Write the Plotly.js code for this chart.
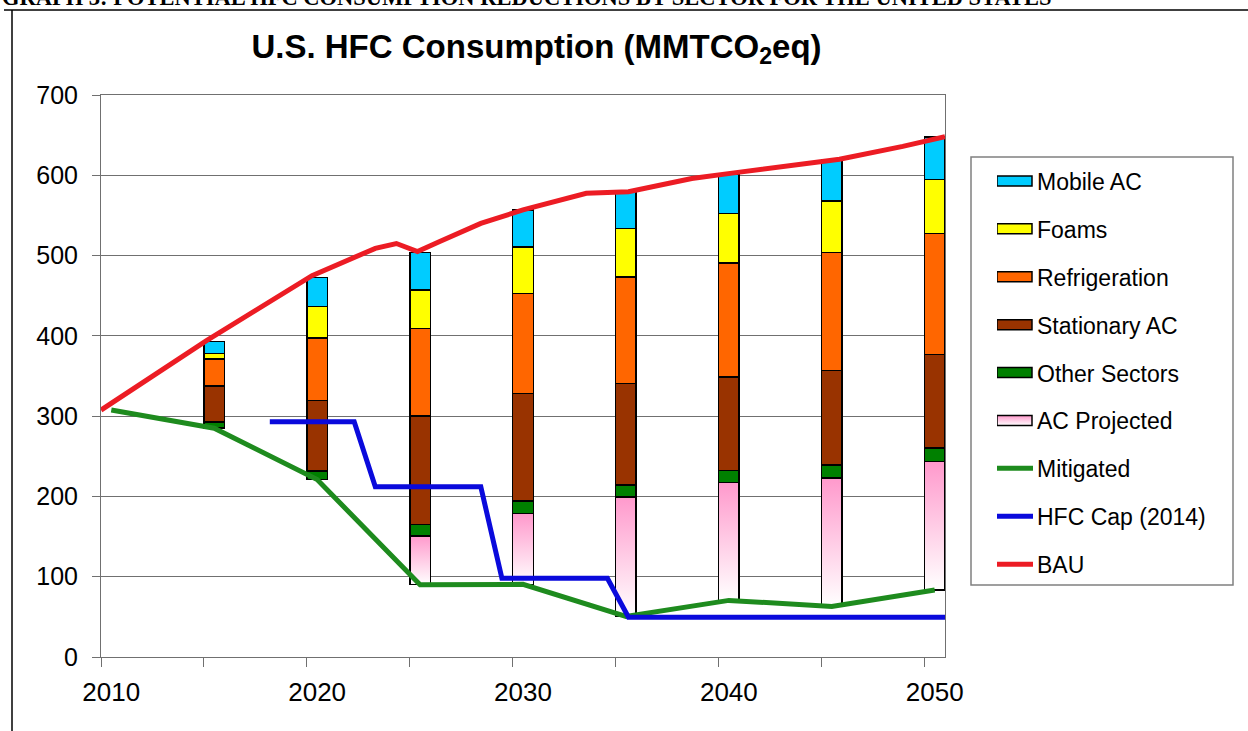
<!DOCTYPE html>
<html><head><meta charset="utf-8">
<script src="https://cdn.plot.ly/plotly-3.0.1.min.js"></script>
<style>html,body{margin:0;padding:0;background:#fff;} #chart{width:1248px;height:731px;}</style>
</head><body><div id="chart"></div>
<script>
// ---- data (MMTCO2eq) ----
const barYears = [2015, 2020, 2025, 2030, 2035, 2040, 2045, 2050];
const acProjected   = [0, 0, 61, 88, 149, 147, 160, 160];
const otherSectors  = [7.5, 10.5, 14, 16, 15, 15, 16, 17];
const stationaryAC  = [45, 88, 135, 134, 126, 116, 118, 116];
const refrigeration = [33.5, 78, 109, 124, 133, 142, 147, 151];
const foams         = [7, 39, 48, 58, 60, 62, 64, 67];
const mobileAC      = [15, 36, 47, 46, 46.5, 49, 51, 53];

const mitigatedYears = [2010, 2015, 2020, 2025, 2030, 2035, 2040, 2045, 2050];
const mitigated      = [307.6, 285, 221, 90, 90.5, 50.5, 70.5, 63, 83.5];

const capYears = [2018, 2022, 2023, 2028, 2029, 2034, 2035, 2050];
const hfcCap   = [293, 293, 212, 212, 98, 98, 49.5, 49.5];

const bauYears = [2010, 2015, 2020, 2022, 2023, 2024, 2025, 2026, 2028, 2030, 2033, 2035, 2038, 2040, 2042, 2045, 2048, 2050];
const bau      = [307.6, 394, 475, 497.5, 509, 515, 505, 517, 540, 557, 577.5, 579.5, 596, 603, 609.5, 620, 636, 648];

const xTickYears  = [2010, 2020, 2030, 2040, 2050];
const xTickLabels = ['2010', '2020', '2030', '2040', '2050'];
const xMarkYears  = [2010, 2015, 2020, 2025, 2030, 2035, 2040, 2045, 2050];

const chartTitle = 'U.S. HFC Consumption (MMTCO<sub>2</sub>eq)';
const headerText = 'GRAPH 3: POTENTIAL HFC CONSUMPTION REDUCTIONS BY SECTOR FOR THE UNITED STATES';

// bar base = mitigated level at the bar years
const barBase = barYears.map(y => mitigated[mitigatedYears.indexOf(y)]);

// ---- geometry ----
const W = 1248, H = 731, L = 101, R = 945, T = 95, B = 657;
const px = x => (x - L) / (R - L);
const py = y => (B - y) / (B - T);
const AX = '#707070';

function barTrace(name, vals, color, rank) {
  return {type: 'bar', name: name, x: barYears, y: vals, width: 1,
    marker: {color: color, line: {color: '#000', width: 1.5}},
    legendgroup: name, legendrank: rank, hoverinfo: 'skip'};
}

const data = [
  {type: 'bar', x: barYears, y: barBase, width: 1, showlegend: false, hoverinfo: 'skip',
   marker: {color: 'rgba(0,0,0,0)', line: {width: 0}}},
  barTrace('AC Projected', acProjected, '#FFD6EA', 6),
  barTrace('Other Sectors', otherSectors, '#008000', 5),
  barTrace('Stationary AC', stationaryAC, '#993300', 4),
  barTrace('Refrigeration', refrigeration, '#FF6600', 3),
  barTrace('Foams', foams, '#FFFF00', 2),
  barTrace('Mobile AC', mobileAC, '#00CCFF', 1),
  {type: 'scatter', mode: 'lines', name: 'Mitigated', x: mitigatedYears, y: mitigated,
   line: {color: '#1E8B1E', width: 5}, legendgroup: 'Mitigated', legendrank: 7, hoverinfo: 'skip'},
  {type: 'scatter', mode: 'lines', name: 'HFC Cap (2014)', x: capYears, y: hfcCap, xaxis: 'x2',
   line: {color: '#0A0ADC', width: 5}, legendgroup: 'Cap', legendrank: 8, hoverinfo: 'skip'},
  {type: 'scatter', mode: 'lines', name: 'BAU', x: bauYears, y: bau, xaxis: 'x2',
   line: {color: '#EC1C24', width: 5}, legendgroup: 'BAU', legendrank: 9, hoverinfo: 'skip'}
];

const layout = {
  width: W, height: H,
  margin: {l: L, r: W - R, t: T, b: H - B, pad: 0, autoexpand: false},
  paper_bgcolor: '#fff', plot_bgcolor: '#fff',
  font: {family: 'Liberation Sans, Arial, sans-serif', color: '#000', size: 22},
  title: {text: chartTitle, font: {size: 33, weight: 'bold', color: '#000'},
    xref: 'container', x: 536.5 / W, xanchor: 'center',
    yref: 'container', y: 1 - 46 / H, yanchor: 'middle'},
  barmode: 'stack', bargap: 0,
  showlegend: true,
  legend: {x: px(997), y: py(159.5), xanchor: 'left', yanchor: 'top',
    bgcolor: 'rgba(0,0,0,0)', borderwidth: 0, font: {size: 23},
    traceorder: 'grouped', tracegroupgap: 15, itemwidth: 30},
  xaxis: {range: [2009.5, 2050.5], tickmode: 'array', tickvals: xTickYears, ticktext: xTickLabels,
    ticks: '', showgrid: false, zeroline: false, showline: true, linecolor: AX, linewidth: 1, mirror: true,
    tickfont: {size: 26}, ticklabelstandoff: 12,
    minor: {tickmode: 'array', tickvals: xMarkYears.map(y => y - 0.5), ticks: 'outside',
      ticklen: 9, tickcolor: AX, tickwidth: 1, showgrid: false}},
  xaxis2: {overlaying: 'x', range: [2010, 2050], visible: false},
  yaxis: {range: [0, 700], tick0: 0, dtick: 100, ticks: 'outside', ticklen: 8, tickcolor: AX,
    showgrid: true, gridcolor: AX, gridwidth: 1, zeroline: false,
    showline: true, linecolor: AX, linewidth: 1, mirror: true,
    tickfont: {size: 25}, ticklabelstandoff: 9},
  shapes: [
    // outer frame
    {type: 'line', xref: 'paper', yref: 'paper', x0: px(4), x1: px(1248), y0: py(10), y1: py(10), line: {color: '#000', width: 1.5}},
    {type: 'line', xref: 'paper', yref: 'paper', x0: px(12), x1: px(12), y0: py(10), y1: py(731), line: {color: '#000', width: 1.5}},
    // legend box
    {type: 'rect', xref: 'paper', yref: 'paper', x0: px(971), x1: px(1233), y0: py(157), y1: py(585), line: {color: '#808080', width: 1.5}}
  ],
  annotations: [
    {text: headerText, xref: 'paper', yref: 'paper', x: px(0), y: py(12), xanchor: 'left', yanchor: 'bottom',
     showarrow: false, font: {family: 'Liberation Serif, Times New Roman, serif', size: 22.5, weight: 'bold', color: '#000'}}
  ]
};

function applyStyling(gd) {
  const ns = 'http://www.w3.org/2000/svg';
  const svg = gd.querySelector('svg.main-svg');
  if (!document.getElementById('acgrad')) {
    let defs = svg.querySelector('defs');
    if (!defs) { defs = document.createElementNS(ns, 'defs'); svg.insertBefore(defs, svg.firstChild); }
    const grad = document.createElementNS(ns, 'linearGradient');
    grad.setAttribute('id', 'acgrad');
    grad.setAttribute('x1', '0'); grad.setAttribute('y1', '0');
    grad.setAttribute('x2', '0'); grad.setAttribute('y2', '1');
    [['0%', '#FF99CC'], ['100%', '#FFFFFF']].forEach(([o, c]) => {
      const s = document.createElementNS(ns, 'stop');
      s.setAttribute('offset', o); s.setAttribute('stop-color', c);
      grad.appendChild(s);
    });
    defs.appendChild(grad);
  }
  const barTraces = gd.querySelectorAll('.barlayer .trace');
  if (barTraces[1]) barTraces[1].querySelectorAll('path').forEach(p => { p.style.fill = 'url(#acgrad)'; });
  gd.querySelectorAll('g.traces').forEach(tr => {
    const t = tr.querySelector('text');
    const label = t ? t.textContent : '';
    tr.querySelectorAll('path').forEach(p => {
      const d = p.getAttribute('d') || '';
      const inLines = !!p.closest('.legendlines');
      if (/^M6,6H-6V-6H6Z/.test(d) || p.classList.contains('legendbar') || p.dataset.swatch === '1') {
        p.dataset.swatch = '1';
        p.setAttribute('d', 'M-20,5H15V-5H-20Z');
        if (label === 'AC Projected') p.style.fill = 'url(#acgrad)';
      } else if (inLines || /^M[\d.]+,0h/.test(d) || p.dataset.lineSwatch === '1') {
        p.dataset.lineSwatch = '1';
        p.setAttribute('d', 'M-2,0h38');
      }
    });
  });
}

Plotly.newPlot('chart', data, layout, {staticPlot: true}).then(gd => {
  applyStyling(gd);
  gd.on('plotly_afterplot', () => applyStyling(gd));
  setTimeout(() => applyStyling(gd), 100);
  setTimeout(() => applyStyling(gd), 400);
});
</script>
</body></html>
